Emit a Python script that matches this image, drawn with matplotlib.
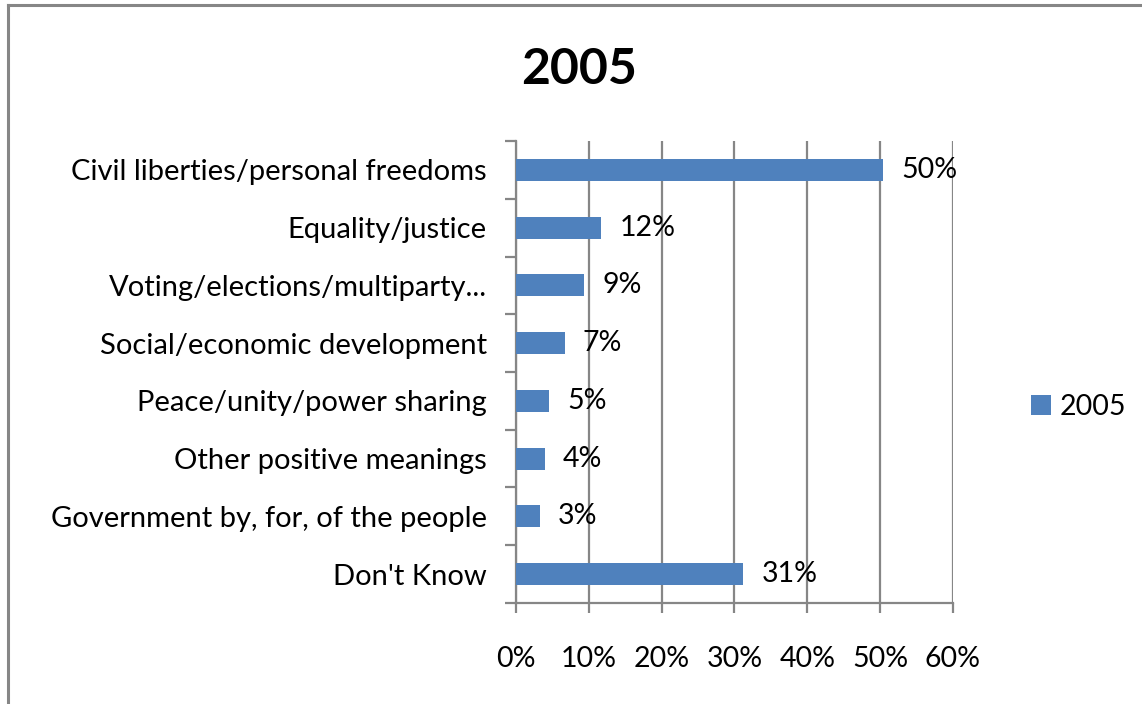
import matplotlib
matplotlib.use("Agg")
from matplotlib import pyplot as plt
from matplotlib.lines import Line2D
from matplotlib.ticker import FixedLocator, PercentFormatter

categories = [
    "Civil liberties/personal freedoms",
    "Equality/justice",
    "Voting/elections/multiparty...",
    "Social/economic development",
    "Peace/unity/power sharing",
    "Other positive meanings",
    "Government by, for, of the people",
    "Don't Know",
]
values = [50.4, 11.7, 9.4, 6.7, 4.6, 4.0, 3.3, 31.2]
series_name = "2005"
x_ticks = [0, 10, 20, 30, 40, 50, 60]

plt.rcParams["font.family"] = ["Lato", "DejaVu Sans"]
grey = "#868686"
bar_color = "#4F81BD"
fs = 20.5

fig = plt.figure(figsize=(11.42, 7.04), dpi=100)
ax = fig.add_axes([0.4518, 0.1435, 0.3827, 0.6562])

pos = list(range(len(categories)))
bars = ax.barh(pos, values, height=0.38, color=bar_color, label=series_name, zorder=3)

for b, v in zip(bars, values):
    ax.annotate(f"{v:.0f}%", (b.get_width(), b.get_y() + b.get_height() / 2),
                xytext=(13, 0), textcoords="offset points",
                va="center", ha="left", fontsize=fs, color="black", zorder=4)

ax.set_xlim(0, 60)
ax.set_ylim(len(categories) - 0.5, -0.5)
ax.set_xticks(x_ticks)
ax.xaxis.set_major_formatter(PercentFormatter(decimals=0))
ax.set_yticks(pos)
ax.set_yticklabels(categories)
ax.yaxis.set_minor_locator(FixedLocator([p - 0.5 for p in range(len(categories) + 1)]))

ax.tick_params(axis="y", which="major", length=0, pad=21, labelsize=21)
ax.tick_params(axis="y", which="minor", length=8, width=1.6, color=grey, direction="out")
ax.tick_params(axis="x", which="major", length=7, width=1.6, color=grey, pad=24, labelsize=fs)

ax.grid(axis="x", color=grey, linewidth=1.6, zorder=0)
for s in ["top", "right"]:
    ax.spines[s].set_visible(False)
for s in ["left", "bottom"]:
    ax.spines[s].set_color(grey)
    ax.spines[s].set_linewidth(1.6)

fig.text(579 / 1142, 1 - 69 / 704, "2005", ha="center", va="center",
         fontsize=36, fontweight="bold")

fig.legend(handles=[bars], labels=[series_name], loc="center left",
           bbox_to_anchor=(1031 / 1142, 1 - 407 / 704), frameon=False,
           fontsize=fs, handlelength=0.7, handleheight=0.7, handletextpad=0.3,
           borderaxespad=0, borderpad=0)

# outer chart frame (top and left edges visible)
fig.add_artist(Line2D([8 / 1142, 8 / 1142], [0, 1 - 5 / 704], color=grey,
                      linewidth=2.2, transform=fig.transFigure))
fig.add_artist(Line2D([8 / 1142, 1], [1 - 5 / 704, 1 - 5 / 704], color=grey,
                      linewidth=2.2, transform=fig.transFigure))

fig.savefig("out.png", dpi=100)
